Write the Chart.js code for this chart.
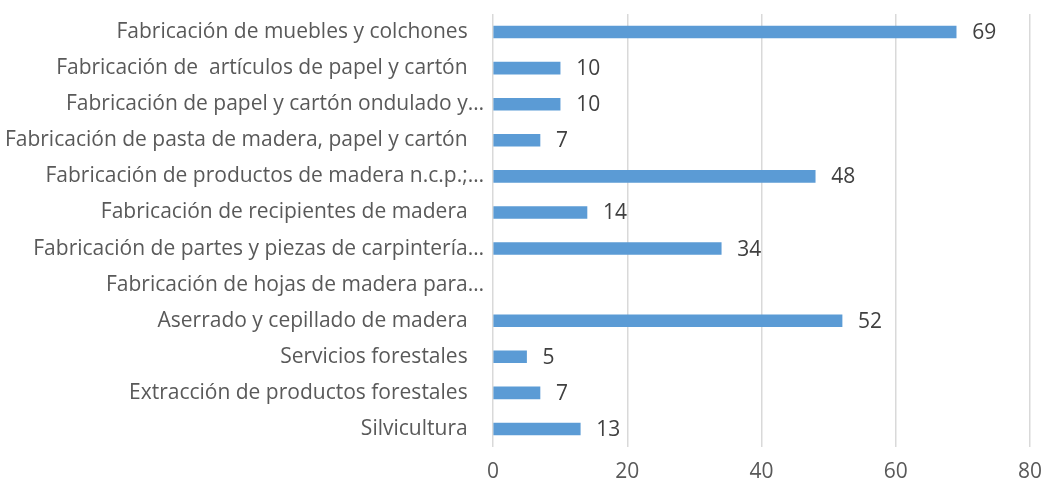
<!DOCTYPE html>
<html>
<head>
<meta charset="utf-8">
<script src="https://cdn.jsdelivr.net/npm/chart.js@4/dist/chart.umd.min.js"></script>
<style>
  html, body { margin: 0; padding: 0; background: #fff; }
  #wrap { width: 1043px; height: 487px; }
</style>
</head>
<body>
<div id="wrap"><canvas id="ramas"></canvas></div>
<script>
var categorias = [
  "Fabricación de muebles y colchones",
  "Fabricación de  artículos de papel y cartón",
  "Fabricación de papel y cartón ondulado y…",
  "Fabricación de pasta de madera, papel y cartón",
  "Fabricación de productos de madera n.c.p.;…",
  "Fabricación de recipientes de madera",
  "Fabricación de partes y piezas de carpintería…",
  "Fabricación de hojas de madera para…",
  "Aserrado y cepillado de madera",
  "Servicios forestales",
  "Extracción de productos forestales",
  "Silvicultura"
]
var valores = [69, 10, 10, 7, 48, 14, 34, null, 52, 5, 7, 13]
var ticksX = [0, 20, 40, 60, 80]

var fuente = "'Open Sans', 'DejaVu Sans', sans-serif"

// etiquetas de valor al final de cada barra
var etiquetas = {
  id: "etiquetas",
  afterDatasetsDraw(chart) {
    var ctx = chart.ctx
    var meta = chart.getDatasetMeta(0)
    ctx.save()
    ctx.font = "21px " + fuente
    ctx.fillStyle = "#404040"
    ctx.textAlign = "left"
    ctx.textBaseline = "middle"
    meta.data.forEach((bar, i) => {
      var v = valores[i]
      if (v === null || v === undefined) return
      ctx.fillText(String(v), bar.x + 16, bar.y + 1)
    })
    ctx.restore()
  }
}

new Chart("ramas", {
  type: "bar",
  data: {
    labels: categorias,
    datasets: [{
      data: valores,
      backgroundColor: "#5b9bd5",
      borderWidth: 0,
      barThickness: 12
    }]
  },
  plugins: [etiquetas],
  options: {
    indexAxis: "y",
    responsive: true,
    maintainAspectRatio: false,
    animation: false,
    layout: { padding: { top: 14, right: 13, left: 0, bottom: 0 } },
    plugins: {
      legend: { display: false },
      tooltip: { enabled: false },
      title: { display: false }
    },
    scales: {
      x: {
        min: 0,
        max: 80,
        afterBuildTicks: s => { s.ticks = ticksX.map(v => ({ value: v })) },
        afterFit: s => { s.height = 40; s.paddingLeft = 0; s.paddingRight = 0 },
        grid: { color: "#d9d9d9", lineWidth: 1.5, drawTicks: false },
        border: { display: false },
        ticks: { color: "#595959", font: { size: 21, family: fuente }, padding: 12 }
      },
      y: {
        afterFit: s => { s.width = 493; s.paddingTop = 0; s.paddingBottom = 0 },
        grid: { display: false },
        border: { display: false },
        ticks: {
          color: "#595959",
          font: { size: 21, family: fuente },
          padding: 1,
          autoSkip: false,
          callback: function (v, i) {
            var t = categorias[i]
            return t.endsWith("…") ? t : t + "   "
          }
        }
      }
    }
  }
})
</script>
</body>
</html>
